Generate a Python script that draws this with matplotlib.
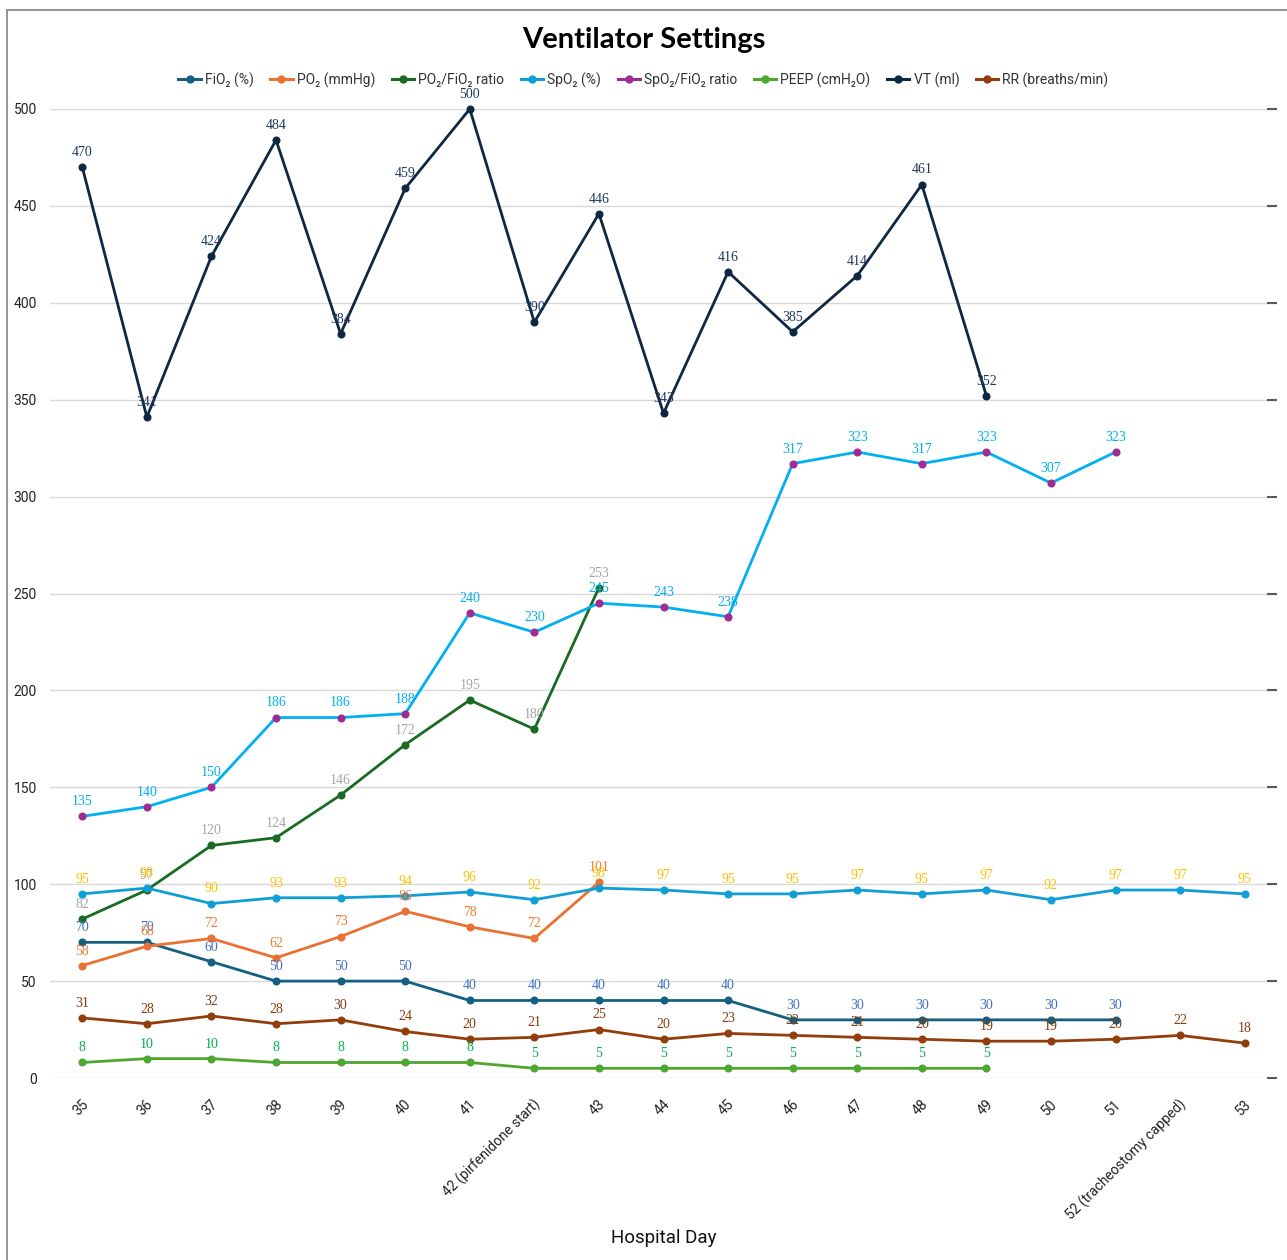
import numpy as np
import matplotlib
matplotlib.use("Agg")
import matplotlib.pyplot as plt
from matplotlib.lines import Line2D
from matplotlib.patches import Rectangle
from matplotlib.transforms import ScaledTranslation

# ---------------- data ----------------
days = ['35', '36', '37', '38', '39', '40', '41', '42 (pirfenidone start)', '43', '44',
        '45', '46', '47', '48', '49', '50', '51', '52 (tracheostomy capped)', '53']
fio2 = [70, 70, 60, 50, 50, 50, 40, 40, 40, 40, 40, 30, 30, 30, 30, 30, 30]
po2 = [58, 68, 72, 62, 73, 86, 78, 72, 101]
pf_ratio = [82, 97, 120, 124, 146, 172, 195, 180, 253]
spo2 = [95, 98, 90, 93, 93, 94, 96, 92, 98, 97, 95, 95, 97, 95, 97, 92, 97, 97, 95]
sf_ratio = [135, 140, 150, 186, 186, 188, 240, 230, 245, 243, 238, 317, 323, 317, 323, 307, 323]
peep = [8, 10, 10, 8, 8, 8, 8, 5, 5, 5, 5, 5, 5, 5, 5]
vt = [470, 341, 424, 484, 384, 459, 500, 390, 446, 343, 416, 385, 414, 461, 352]
rr = [31, 28, 32, 28, 30, 24, 20, 21, 25, 20, 23, 22, 21, 20, 19, 19, 20, 22, 18]
yticks = [0, 50, 100, 150, 200, 250, 300, 350, 400, 450, 500]

series = [
    # label, values, line colour, marker colour, label colour
    ("FiO\u2082 (%)", fio2, "#156082", "#156082", "#4472C4"),
    ("PO\u2082 (mmHg)", po2, "#E97132", "#E97132", "#ED7D31"),
    ("PO\u2082/FiO\u2082 ratio", pf_ratio, "#196B24", "#196B24", "#A5A5A5"),
    ("SpO\u2082 (%)", spo2, "#0F9ED5", "#0F9ED5", "#FFC000"),
    ("SpO\u2082/FiO\u2082 ratio", sf_ratio, "#00B0F0", "#A02B93", "#00B0F0"),
    ("PEEP (cmH\u2082O)", peep, "#4EA72E", "#4EA72E", "#00B050"),
    ("VT (ml)", vt, "#0E2841", "#0E2841", "#1F3864"),
    ("RR (breaths/min)", rr, "#943D0C", "#943D0C", "#843C0C"),
]
legend_colors = ["#156082", "#E97132", "#196B24", "#0F9ED5", "#A02B93",
                 "#4EA72E", "#0E2841", "#943D0C"]

sans = ["Roboto", "DejaVu Sans"]
serif = ["Liberation Serif", "DejaVu Serif"]

fig = plt.figure(figsize=(12.87, 12.60), dpi=100)
W, H = 1287, 1260
ax = fig.add_axes([50 / W, 1 - 1078 / H, (1277 - 50) / W, (1078 - 109) / H])

for name, vals, lc, mc, tc in series:
    x = np.arange(len(vals))
    ax.plot(x, vals, color=lc, lw=2.0, marker="o", ms=4.8,
            mfc=mc, mec=mc, clip_on=False, zorder=3, solid_capstyle="round")
    for xi, v in zip(x, vals):
        ax.annotate(str(v), (xi, v), xytext=(0, 10.5), textcoords="offset points",
                    ha="center", va="center", color=tc, fontsize=10,
                    family=serif, zorder=4)

ax.set_xlim(-0.5, len(days) - 0.5)
ax.set_ylim(0, 500)
ax.set_yticks(yticks)
ax.set_yticklabels([str(t) for t in yticks], family=sans, fontsize=10, color="#222222")
ax.yaxis.grid(True, color="#D9D9D9", lw=1.0, zorder=0)
ax.set_axisbelow(True)
for s in ax.spines.values():
    s.set_visible(False)
ax.tick_params(axis="y", left=False, right=True, labelleft=True, labelright=False,
               direction="in", length=7, width=1.5, color="#595959", pad=9.5)

ax.set_xticks(np.arange(len(days)))
ax.set_xticklabels(days, rotation=45, ha="right", va="center",
                   rotation_mode="anchor", family=sans, fontsize=10, color="#222222")
ax.tick_params(axis="x", bottom=False, pad=14)
for lab in ax.get_xticklabels():
    lab.set_transform(lab.get_transform() + ScaledTranslation(4 / 100, 0, fig.dpi_scale_trans))

ax.set_xlabel("Hospital Day", family=sans, fontsize=13.5, color="#111111", labelpad=0)
ax.xaxis.set_label_coords(0.5, -(1229 - 1078) / (1078 - 109), transform=ax.transAxes)

fig.text(0.5, 1 - 40 / H, "Ventilator Settings", ha="center", va="center",
         family=["Lato", "DejaVu Sans"], fontweight="bold", fontsize=21, color="#000000")

handles = [Line2D([0], [0], color=c, lw=2.2, marker="o", ms=5, mfc=c, mec=c)
           for c in legend_colors]
labels = [s[0] for s in series]
fig.legend(handles, labels, loc="center", bbox_to_anchor=(0.5, 1 - 80 / H), ncol=8,
           frameon=False, prop={"family": sans, "size": 10}, handlelength=1.6,
           handletextpad=0.3, columnspacing=1.2, labelcolor="#333333")

# outer chart frame (top and left edges visible)
fig.patches.append(Rectangle((7 / W, -0.05), 1.2, 1 - 10 / H + 0.05,
                             transform=fig.transFigure, fill=False,
                             edgecolor="#8C8C8C", lw=1.3))

fig.savefig("out.png", dpi=100, facecolor="white")
